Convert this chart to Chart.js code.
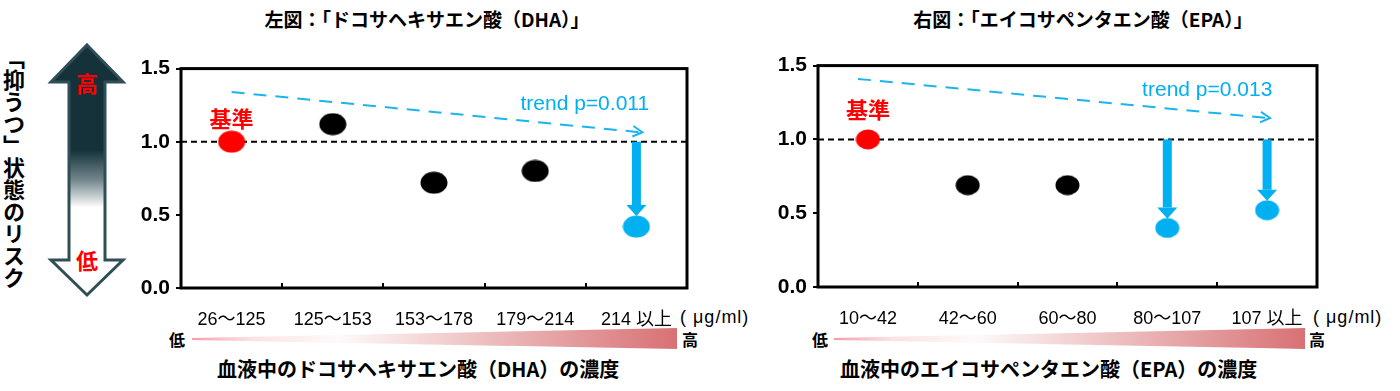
<!DOCTYPE html>
<html lang="ja">
<head>
<meta charset="utf-8">
<script src="https://cdn.jsdelivr.net/npm/chart.js@4.4.1/dist/chart.umd.min.js"></script>
<style>
body { margin: 0; width: 1400px; height: 391px; position: relative; overflow: hidden; background: #fff;
  font-family: 'Liberation Sans', 'Noto Sans CJK JP', sans-serif; color: #000; }
.abs { position: absolute; white-space: nowrap; }
.title { top: 8px; font-size: 19px; line-height: 22px; font-weight: bold; transform: translateX(-50%); font-family: 'Noto Sans CJK JP', sans-serif; }
.risk { left: 2px; top: 47px; writing-mode: vertical-rl; font-size: 22px; line-height: 24px; font-weight: bold; font-family: 'Noto Sans CJK JP', sans-serif; }
.unit { top: 306px; font-size: 18px; line-height: 22px; letter-spacing: 1px; }
.lohi { top: 330px; font-size: 16px; line-height: 18px; font-weight: bold; transform: translateX(-50%); font-family: 'Noto Sans CJK JP', sans-serif; }
.xtitle { top: 357px; font-size: 20px; line-height: 24px; font-weight: bold; font-family: 'Noto Sans CJK JP', sans-serif; }
canvas { position: absolute; }
</style>
</head>
<body>
<svg class="abs" style="left:0;top:0" width="1400" height="391">
  <defs>
    <linearGradient id="riskFill" x1="0" y1="0" x2="0" y2="1">
      <stop offset="0" stop-color="#15323a"/>
      <stop offset="0.42" stop-color="#15323a"/>
      <stop offset="0.54" stop-color="#73878c"/>
      <stop offset="0.65" stop-color="#ffffff"/>
      <stop offset="1" stop-color="#ffffff"/>
    </linearGradient>
    <linearGradient id="wedgeFill" x1="0" y1="0" x2="1" y2="0">
      <stop offset="0" stop-color="#f59ca6"/>
      <stop offset="0.12" stop-color="#fbe2e4"/>
      <stop offset="0.3" stop-color="#fefafa"/>
      <stop offset="1" stop-color="#d87174"/>
    </linearGradient>
  </defs>
  <polygon points="87,45 123,82 105,82 105,260 123,260 87,295 51,260 69,260 69,82 51,82"
    fill="url(#riskFill)" stroke="#2f4e56" stroke-width="3"/>
  <text x="87" y="92" fill="#ff0000" font-size="22" font-weight="bold" text-anchor="middle" font-family="Noto Sans CJK JP">高</text>
  <text x="87" y="269" fill="#ff0000" font-size="22" font-weight="bold" text-anchor="middle" font-family="Noto Sans CJK JP">低</text>
  <polygon points="192,338 677,328 677,349 192,340" fill="url(#wedgeFill)"/>
  <polygon points="834,338 1305,328 1305,349 834,340" fill="url(#wedgeFill)"/>
</svg>

<div class="abs risk">「抑うつ」状態のリスク</div>
<div class="abs title" style="left:427px">左図：「ドコサヘキサエン酸（DHA）」</div>
<div class="abs title" style="left:1083px">右図：「エイコサペンタエン酸（EPA）」</div>

<div class="abs unit" style="left:680px">( μg/ml)</div>
<div class="abs unit" style="left:1313px">( μg/ml)</div>
<div class="abs lohi" style="left:177px">低</div>
<div class="abs lohi" style="left:690px">高</div>
<div class="abs lohi" style="left:820px">低</div>
<div class="abs lohi" style="left:1317px">高</div>
<div class="abs xtitle" style="left:217px">血液中のドコサヘキサエン酸（DHA）の濃度</div>
<div class="abs xtitle" style="left:840px">血液中のエイコサペンタエン酸（EPA）の濃度</div>

<canvas id="dha-chart" width="570" height="280" style="left:130px;top:50px"></canvas>
<canvas id="epa-chart" width="563" height="282" style="left:767px;top:47px"></canvas>

<script>
// left chart: DHA
const dhaLabels = ['26～125', '125～153', '153～178', '179～214', '214 以上']
const dhaValues = [1.0, 1.12, 0.72, 0.80, 0.42]
const dhaKinds = ['ref', 'ns', 'ns', 'ns', 'sig']
const dhaTrendStart = [0, 1.34]      // [category index, value]
const dhaTrendEnd = [4.06, 1.065]
const dhaTrendText = 'trend p=0.011'
const dhaTrendTextAt = [3.49, 1.26]
const dhaRefTextY = 1.16

// right chart: EPA
const epaLabels = ['10～42', '42～60', '60～80', '80～107', '107 以上']
const epaValues = [1.0, 0.69, 0.69, 0.40, 0.52]
const epaKinds = ['ref', 'ns', 'ns', 'sig', 'sig']
const epaTrendStart = [-0.1, 1.41]
const epaTrendEnd = [4.03, 1.145]
const epaTrendText = 'trend p=0.013'
const epaTrendTextAt = [3.4, 1.335]
const epaRefTextY = 1.2

const yMin = 0
const yMax = 1.5
const yStep = 0.5
const refValue = 1.0
const refText = '基準'

const kindColors = { ref: '#ff0000', ns: '#000000', sig: '#00b0f0' }
const blue = '#00b0f0'
const trendBlue = '#1db4ec'

function ellipseImage(color, w, h) {
    const c = document.createElement('canvas')
    c.width = w
    c.height = h
    const cx = c.getContext('2d')
    cx.fillStyle = color
    cx.beginPath()
    cx.ellipse(w / 2, h / 2, w / 2 - 0.5, h / 2 - 0.5, 0, 0, Math.PI * 2)
    cx.fill()
    return c
}

function makeChart(elementId, d) {
    const images = {}
    Object.keys(kindColors).forEach(k => images[k] = ellipseImage(kindColors[k], d.pointW, d.pointH))

    const overlay = {
        id: 'overlay',
        beforeDatasetsDraw(chart) {
            const { ctx, chartArea: a, scales: { x, y } } = chart
            ctx.save()
            // reference line at 1.0
            const yr = y.getPixelForValue(refValue)
            ctx.strokeStyle = '#000'
            ctx.lineWidth = 2
            ctx.setLineDash([6, 4])
            ctx.beginPath()
            ctx.moveTo(a.left, yr)
            ctx.lineTo(a.right, yr)
            ctx.stroke()
            ctx.setLineDash([])
            // small inward ticks between categories
            for (let i = 1; i < d.labels.length; i++) {
                const px = Math.round((x.getPixelForValue(i - 1) + x.getPixelForValue(i)) / 2)
                ctx.beginPath()
                ctx.moveTo(px, a.bottom)
                ctx.lineTo(px, a.bottom - 5)
                ctx.stroke()
            }
            // box
            ctx.lineWidth = 3
            ctx.strokeRect(a.left, a.top, a.right - a.left, a.bottom - a.top)
            // arrows down to the significant points
            ctx.fillStyle = blue
            d.values.forEach((v, i) => {
                if (d.kinds[i] !== 'sig') return
                const px = x.getPixelForValue(i)
                const tip = y.getPixelForValue(v) - d.pointH / 2 + 1
                const headTop = tip - 11
                ctx.fillRect(px - 4.5, yr, 9, headTop - yr)
                ctx.beginPath()
                ctx.moveTo(px - 10, headTop)
                ctx.lineTo(px + 10, headTop)
                ctx.lineTo(px, tip)
                ctx.closePath()
                ctx.fill()
            })
            // trend arrow
            const x0 = x.getPixelForValue(d.trendStart[0]), y0 = y.getPixelForValue(d.trendStart[1])
            const x1 = x.getPixelForValue(d.trendEnd[0]), y1 = y.getPixelForValue(d.trendEnd[1])
            ctx.strokeStyle = trendBlue
            ctx.lineWidth = 2
            ctx.setLineDash([13, 9])
            ctx.beginPath()
            ctx.moveTo(x0, y0)
            ctx.lineTo(x1 - 3, y1)
            ctx.stroke()
            ctx.setLineDash([])
            const ang = Math.atan2(y1 - y0, x1 - x0)
            ctx.beginPath()
            ctx.moveTo(x1 - 11 * Math.cos(ang - 0.5), y1 - 11 * Math.sin(ang - 0.5))
            ctx.lineTo(x1, y1)
            ctx.lineTo(x1 - 11 * Math.cos(ang + 0.5), y1 - 11 * Math.sin(ang + 0.5))
            ctx.stroke()
            ctx.restore()
        },
        afterDatasetsDraw(chart) {
            const { ctx, scales: { x, y } } = chart
            ctx.save()
            ctx.textAlign = 'center'
            ctx.textBaseline = 'middle'
            ctx.fillStyle = blue
            ctx.font = '21px "Liberation Sans", sans-serif'
            ctx.fillText(d.trendText, x.getPixelForValue(d.trendTextAt[0]), y.getPixelForValue(d.trendTextAt[1]))
            ctx.fillStyle = '#ff0000'
            ctx.font = 'bold 22px "Noto Sans CJK JP", sans-serif'
            ctx.fillText(refText, x.getPixelForValue(0), y.getPixelForValue(d.refTextY))
            ctx.restore()
        }
    }

    const canvasCtx = document.getElementById(elementId).getContext('2d')
    return new Chart(canvasCtx, {
        type: 'line',
        data: {
            labels: d.labels,
            datasets: [{
                data: d.values,
                showLine: false,
                pointStyle: d.kinds.map(k => images[k]),
                pointRadius: 12,
                pointHoverRadius: 12
            }]
        },
        options: {
            responsive: false,
            animation: false,
            devicePixelRatio: 1,
            layout: { padding: { left: 0, right: d.padRight, top: 13, bottom: 0 } },
            plugins: { legend: { display: false }, tooltip: { enabled: false } },
            scales: {
                x: {
                    offset: true,
                    grid: { display: false },
                    border: { display: false },
                    ticks: { color: '#000', font: { size: 18, family: '"Liberation Sans", "Noto Sans CJK JP", sans-serif' }, padding: 13, maxRotation: 0, autoSkip: false },
                    afterFit: s => { s.height = 42 }
                },
                y: {
                    min: yMin,
                    max: yMax,
                    grid: { display: true, drawOnChartArea: false, drawTicks: true, tickLength: 5, color: '#000', lineWidth: 2 },
                    border: { display: false },
                    ticks: {
                        stepSize: yStep,
                        color: '#000',
                        padding: 6,
                        font: { size: 21, weight: 'bold', family: '"Liberation Sans", sans-serif' },
                        callback: v => v.toFixed(1)
                    },
                    afterFit: s => { s.width = 51 }
                }
            }
        },
        plugins: [overlay]
    })
}

makeChart('dha-chart', {
    labels: dhaLabels, values: dhaValues, kinds: dhaKinds,
    trendStart: dhaTrendStart, trendEnd: dhaTrendEnd,
    trendText: dhaTrendText, trendTextAt: dhaTrendTextAt, refTextY: dhaRefTextY,
    pointW: 28, pointH: 23, padRight: 9
})
makeChart('epa-chart', {
    labels: epaLabels, values: epaValues, kinds: epaKinds,
    trendStart: epaTrendStart, trendEnd: epaTrendEnd,
    trendText: epaTrendText, trendTextAt: epaTrendTextAt, refTextY: epaRefTextY,
    pointW: 25, pointH: 21, padRight: 7
})
</script>
</body>
</html>
